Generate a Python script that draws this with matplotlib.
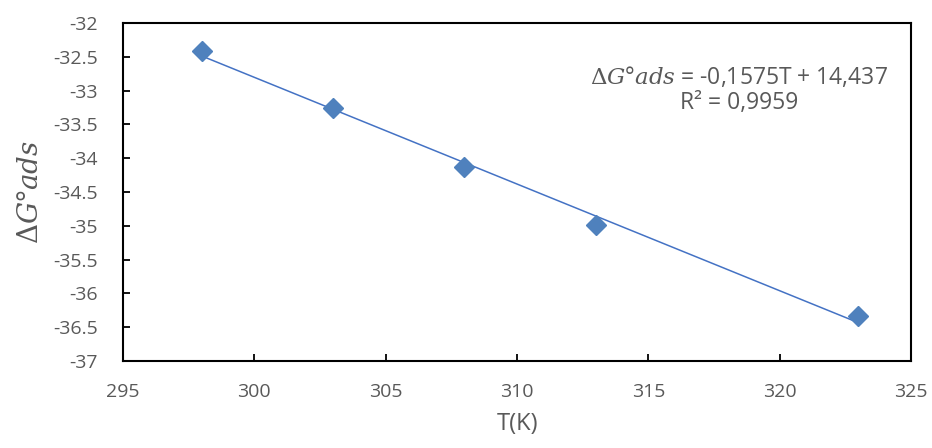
import numpy as np
import matplotlib
matplotlib.use("Agg")
import matplotlib.pyplot as plt

plt.rcParams['font.family'] = ['Open Sans', 'DejaVu Sans']
plt.rcParams['mathtext.fontset'] = 'dejavuserif'

# data
temps = [298, 303, 308, 313, 323]
dg_ads = [-32.41, -33.26, -34.13, -34.99, -36.33]

x_ticks = [295, 300, 305, 310, 315, 320, 325]
y_ticks = [-37, -36.5, -36, -35.5, -35, -34.5, -34, -33.5, -33, -32.5, -32]

grey = '#595959'
marker_col = '#4F81BD'
line_col = '#4472C4'

fig = plt.figure(figsize=(9.32, 4.48), dpi=100)
ax = fig.add_axes([0.132, 0.194, 0.8455, 0.7547])

# linear trend line over the data range
slope, icpt = np.polyfit(temps, dg_ads, 1)
tx = np.array([temps[0], temps[-1]])
ax.plot(tx, slope * tx + icpt, color=line_col, lw=1.1, zorder=2)
ax.plot(temps, dg_ads, linestyle='none', marker='D', markersize=10,
        color=marker_col, zorder=3)

ax.set_xlim(295, 325)
ax.set_ylim(-37, -32)
ax.set_xticks(x_ticks)
ax.set_yticks(y_ticks)
ax.set_xticklabels([str(v) for v in x_ticks])
ax.set_yticklabels(['%g' % v for v in y_ticks])

for s in ax.spines.values():
    s.set_linewidth(1.5)
    s.set_color('black')

ax.tick_params(axis='both', direction='in', length=5, width=1.3,
               colors='black', labelcolor=grey, labelsize=14)
ax.tick_params(axis='y', pad=18)
ax.tick_params(axis='x', pad=16)

ax.set_xlabel('T(K)', fontsize=17, color=grey, labelpad=8)
ax.set_ylabel(r'$\Delta G$°$ads$', fontsize=20, color=grey, labelpad=6)

ax.text(0.782, 0.84, r'$\Delta G$°$ads$ = -0,1575T + 14,437',
        transform=ax.transAxes, ha='center', va='center', fontsize=16.5,
        color=grey)
ax.text(0.782, 0.762, 'R² = 0,9959', transform=ax.transAxes, ha='center',
        va='center', fontsize=16.5, color=grey)

fig.savefig('out.png', dpi=100)
